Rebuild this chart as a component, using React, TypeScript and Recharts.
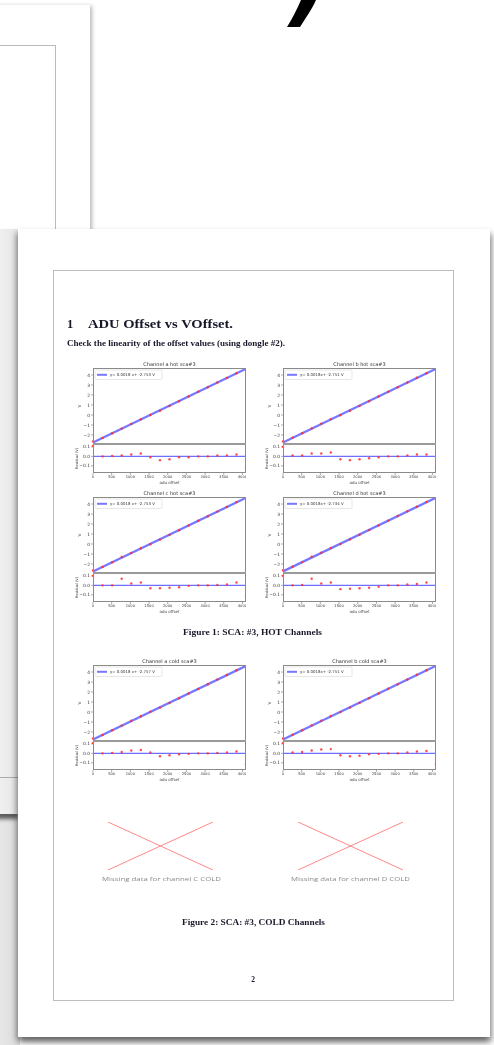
import React from "react";
import {
  ComposedChart,
  LineChart,
  Line,
  Scatter,
  XAxis,
  YAxis,
  ReferenceLine,
} from "recharts";

// adu offset steps, shared by every channel
const aduSteps = [0, 256, 512, 768, 1024, 1280, 1536, 1792, 2048, 2304, 2560, 2816, 3072, 3328, 3584, 3840, 4095];
const aduTicks = [0, 500, 1000, 1500, 2000, 2500, 3000, 3500, 4000];
const voltTicks = [-2, -1, 0, 1, 2, 3, 4];
const residualTicks = [-0.1, 0, 0.1];

const aHotV = [-2.64, -2.29, -1.83, -1.36, -0.89, -0.42, 0.0, 0.43, 0.9, 1.38, 1.85, 2.32, 2.78, 3.25, 3.71, 4.18, 4.5];
const aHotRes = [0.11, 0.0, 0.005, 0.01, 0.02, 0.03, -0.01, -0.04, -0.03, -0.01, -0.01, 0.0, 0.0, 0.01, 0.01, 0.02, -0.12];
const bHotV = [-2.65, -2.28, -1.82, -1.34, -0.88, -0.41, -0.02, 0.43, 0.9, 1.37, 1.85, 2.32, 2.78, 3.25, 3.72, 4.18, 4.5];
const bHotRes = [0.1, 0.01, 0.01, 0.03, 0.03, 0.04, -0.03, -0.04, -0.03, -0.02, -0.01, 0.0, 0.0, 0.01, 0.02, 0.02, -0.12];
const cHotV = [-2.65, -2.29, -1.83, -1.3, -0.89, -0.42, -0.02, 0.44, 0.91, 1.37, 1.85, 2.32, 2.78, 3.24, 3.71, 4.19, 4.51];
const cHotRes = [0.1, 0.0, 0.0, 0.07, 0.02, 0.03, -0.03, -0.03, -0.025, -0.02, -0.005, 0.0, 0.0, 0.005, 0.01, 0.03, -0.11];
const dHotV = [-2.63, -2.27, -1.81, -1.28, -0.87, -0.4, -0.01, 0.46, 0.92, 1.39, 1.86, 2.34, 2.8, 3.27, 3.73, 4.21, 4.54];
const dHotRes = [0.1, 0.0, 0.005, 0.07, 0.02, 0.03, -0.04, -0.035, -0.03, -0.025, -0.015, 0.0, 0.0, 0.01, 0.015, 0.03, -0.1];
const aColdV = [-2.64, -2.3, -1.83, -1.36, -0.88, -0.42, 0.02, 0.44, 0.91, 1.38, 1.85, 2.31, 2.77, 3.24, 3.7, 4.17, 4.5];
const aColdRes = [0.11, 0.0, 0.005, 0.015, 0.03, 0.035, 0.01, -0.03, -0.02, -0.01, -0.005, 0.0, 0.0, 0.005, 0.01, 0.02, -0.115];
const bColdV = [-2.64, -2.28, -1.82, -1.34, -0.87, -0.4, -0.01, 0.44, 0.91, 1.38, 1.85, 2.32, 2.78, 3.25, 3.72, 4.18, 4.5];
const bColdRes = [0.11, 0.01, 0.015, 0.03, 0.04, 0.045, -0.02, -0.03, -0.025, -0.01, -0.005, 0.0, 0.0, 0.01, 0.02, 0.025, -0.115];

// fitted line end points (at adu 0 and 4095)
const aHotFit = [-2.753, 4.618];
const bHotFit = [-2.751, 4.62];
const cHotFit = [-2.753, 4.618];
const dHotFit = [-2.734, 4.637];
const aColdFit = [-2.757, 4.614];
const bColdFit = [-2.751, 4.62];

const crossDown = [{ x: 0, y: 1 }, { x: 1, y: 0 }];
const crossUp = [{ x: 0, y: 0 }, { x: 1, y: 1 }];

const PW = 153;
const MH = 76;
const RH = 29;
const YW = 14;
const XH = 8;
const BLUE = "#3d3dff";
const INK = "#17172a";

const fmtV = (t: number) => (t < 0 ? `\u2212${-t}` : `${t}`);
const fmtR = (t: number) => (t < 0 ? `\u2212${(-t).toFixed(1)}` : t.toFixed(1));

const RedDot = (p: any) => <circle cx={p.cx} cy={p.cy} r={1.2} fill="#ff2b2b" fillOpacity={0.85} />;

const tickStyle = { fontSize: 4.4, fill: "#3a3a3a", fontFamily: "DejaVu Sans" };

function Panel({ left, top, v, res, fit }: { left: number; top: number; v: number[]; res: number[]; fit: number[] }) {
  const pts = aduSteps.map((x, i) => ({ x, v: v[i] }));
  const rpts = aduSteps.map((x, i) => ({ x, r: res[i] }));
  const line = [{ x: 0, v: fit[0] }, { x: 4095, v: fit[1] }];
  return (
    <>
      <div style={{ position: "absolute", left: left - YW, top }}>
        <ComposedChart width={PW + YW} height={MH} margin={{ top: 0, right: 0, bottom: 0, left: 0 }}>
          <XAxis type="number" dataKey="x" domain={[0, 4095]} hide />
          <YAxis
            type="number"
            dataKey="v"
            domain={[-2.9, 4.7]}
            ticks={voltTicks}
            interval={0}
            width={YW}
            tick={tickStyle}
            tickSize={2}
            tickMargin={1}
            tickLine={{ stroke: "#555", strokeWidth: 0.5 }}
            axisLine={false}
            tickFormatter={fmtV}
          />
          <Line data={line} dataKey="v" stroke={BLUE} strokeOpacity={0.7} strokeWidth={2.3} dot={false} isAnimationActive={false} />
          <Scatter data={pts} dataKey="v" shape={RedDot} isAnimationActive={false} />
        </ComposedChart>
      </div>
      <div style={{ position: "absolute", left: left - YW, top: top + MH }}>
        <ComposedChart width={PW + YW} height={RH + XH} margin={{ top: 0, right: 0, bottom: 0, left: 0 }}>
          <XAxis
            type="number"
            dataKey="x"
            domain={[0, 4095]}
            ticks={aduTicks}
            interval={0}
            height={XH}
            tick={{ ...tickStyle, fontSize: 3.7 }}
            tickSize={2}
            tickMargin={0.5}
            tickLine={{ stroke: "#555", strokeWidth: 0.5 }}
            axisLine={false}
          />
          <YAxis
            type="number"
            dataKey="r"
            domain={[-0.175, 0.13]}
            ticks={residualTicks}
            interval={0}
            width={YW}
            tick={tickStyle}
            tickSize={2}
            tickMargin={1}
            tickLine={{ stroke: "#555", strokeWidth: 0.5 }}
            axisLine={false}
            tickFormatter={fmtR}
          />
          <ReferenceLine y={0} stroke={BLUE} strokeOpacity={0.75} strokeWidth={1.4} />
          <Scatter data={rpts} dataKey="r" shape={RedDot} isAnimationActive={false} />
        </ComposedChart>
      </div>
      <div style={{ position: "absolute", left, top, width: PW, height: MH, border: "0.8px solid #8a8a8a", boxSizing: "border-box" }} />
      <div style={{ position: "absolute", left, top: top + MH, width: PW, height: RH, border: "0.8px solid #8a8a8a", boxSizing: "border-box" }} />
      <div style={{ position: "absolute", left, top: top + MH - 1, width: PW, height: 2, background: "#9a9a9a" }} />
    </>
  );
}

function Labels({ left, top, title, legend }: { left: number; top: number; title: string; legend: string }) {
  const cx = left + PW / 2;
  const bottom = top + MH + RH;
  return (
    <g fontFamily="DejaVu Sans">
      <text x={cx} y={top - 2.5} fontSize={5} fill="#333" textAnchor="middle">{title}</text>
      <rect x={left + 2} y={top + 2} width={67} height={9.5} rx={1.2} fill="#fff" fillOpacity={0.85} stroke="#cfcfcf" strokeWidth={0.5} />
      <line x1={left + 4} x2={left + 14} y1={top + 6.8} y2={top + 6.8} stroke={BLUE} strokeOpacity={0.7} strokeWidth={2} />
      <text x={left + 17} y={top + 8.2} fontSize={3.9} fill="#333">{legend}</text>
      <text transform={`translate(${left - 12.5},${top + MH / 2}) rotate(-90)`} fontSize={4.2} fill="#444" textAnchor="middle">V</text>
      <text transform={`translate(${left - 15},${top + MH + RH / 2}) rotate(-90)`} fontSize={3.5} fill="#444" textAnchor="middle">Residual (V)</text>
      <text x={cx} y={bottom + 10.5} fontSize={4} fill="#444" textAnchor="middle">adu offset</text>
    </g>
  );
}

function Cross({ left }: { left: number }) {
  return (
    <div style={{ position: "absolute", left, top: 822 }}>
      <LineChart width={105} height={48} margin={{ top: 0, right: 0, bottom: 0, left: 0 }}>
        <XAxis type="number" dataKey="x" domain={[0, 1]} hide />
        <YAxis type="number" dataKey="y" domain={[0, 1]} hide />
        <Line data={crossDown} dataKey="y" stroke="#ff7a7a" strokeWidth={0.9} dot={false} isAnimationActive={false} />
        <Line data={crossUp} dataKey="y" stroke="#ff7a7a" strokeWidth={0.9} dot={false} isAnimationActive={false} />
      </LineChart>
    </div>
  );
}

const panels = [
  { key: "ah", left: 93, top: 368, v: aHotV, res: aHotRes, fit: aHotFit, title: "Channel a hot sca#3", legend: "y= 0.0018 x+ -2.753 V" },
  { key: "bh", left: 283, top: 368, v: bHotV, res: bHotRes, fit: bHotFit, title: "Channel b hot sca#3", legend: "y= 0.0018x+ -2.751 V" },
  { key: "ch", left: 93, top: 497, v: cHotV, res: cHotRes, fit: cHotFit, title: "Channel c hot sca#3", legend: "y= 0.0018 x+ -2.753 V" },
  { key: "dh", left: 283, top: 497, v: dHotV, res: dHotRes, fit: dHotFit, title: "Channel d hot sca#3", legend: "y= 0.0018x+ -2.734 V" },
  { key: "ac", left: 93, top: 665, v: aColdV, res: aColdRes, fit: aColdFit, title: "Channel a cold sca#3", legend: "y= 0.0018 x+ -2.757 V" },
  { key: "bc", left: 283, top: 665, v: bColdV, res: bColdRes, fit: bColdFit, title: "Channel b cold sca#3", legend: "y= 0.0018x+ -2.751 V" },
];

export default function App() {
  return (
    <div style={{ position: "absolute", left: 0, top: 0, width: 494, height: 1045, overflow: "hidden", background: "#fff" }}>
      {/* pages stacked behind */}
      <div style={{ position: "absolute", left: -20, top: 5, width: 110, height: 260, background: "#fff", boxShadow: "2px 1px 4px rgba(0,0,0,0.28)" }} />
      <div style={{ position: "absolute", left: -20, top: 45, width: 75, height: 240, borderTop: "1px solid #bbb", borderRight: "1px solid #bbb" }} />
      <div style={{ position: "absolute", left: -20, top: 229, width: 40, height: 816, background: "linear-gradient(to right, #f2f2f2, #dcdcdc)" }} />
      <div style={{ position: "absolute", left: -20, top: 229, width: 38, height: 585, background: "linear-gradient(to right, #fafafa, #e6e6e6)", boxShadow: "0 5px 4px rgba(0,0,0,0.6)" }} />
      <div style={{ position: "absolute", left: -20, top: 777, width: 38, height: 1, background: "#aaa" }} />
      {/* main page */}
      <div style={{ position: "absolute", left: 18, top: 229, width: 472, height: 808, background: "#fff", boxShadow: "-2px 4px 6px rgba(0,0,0,0.35), 2px 5px 6px rgba(0,0,0,0.4)" }} />
      <div style={{ position: "absolute", left: 53, top: 270, width: 401, height: 731, border: "1px solid #bdbdbd", boxSizing: "border-box" }} />

      <div style={{ position: "absolute", left: 0, top: 0, width: 494, height: 1045, filter: "blur(0.3px)" }}>
        {panels.map((p) => (
          <Panel key={p.key} left={p.left} top={p.top} v={p.v} res={p.res} fit={p.fit} />
        ))}
        <Cross left={108} />
        <Cross left={298} />

        <svg width={494} height={1045} style={{ position: "absolute", left: 0, top: 0 }}>
          <path d="M301 0 L316 0 C312 9 305 19 300 27 L287 27 C292 19 297 9 301 0 Z" fill="#000" />
          <g fontFamily="Liberation Serif" fontWeight="bold" fill={INK}>
            <text x={67} y={327.5} fontSize={12.5}>1</text>
            <text x={88} y={327.5} fontSize={12.5} textLength={145} lengthAdjust="spacingAndGlyphs">ADU Offset vs VOffset.</text>
            <text x={67} y={346} fontSize={7.6} textLength={218} lengthAdjust="spacingAndGlyphs">Check the linearity of the offset values (using dongle #2).</text>
            <text x={183} y={634.5} fontSize={7.6} textLength={139} lengthAdjust="spacingAndGlyphs">Figure 1: SCA: #3, HOT Channels</text>
            <text x={182} y={924.5} fontSize={7.6} textLength={143} lengthAdjust="spacingAndGlyphs">Figure 2: SCA: #3, COLD Channels</text>
            <text x={253} y={982} fontSize={7.5} textAnchor="middle">2</text>
          </g>
          {panels.map((p) => (
            <Labels key={p.key} left={p.left} top={p.top} title={p.title} legend={p.legend} />
          ))}
          <g fontFamily="Open Sans" fill="#8a8a8a" fontSize={5.8}>
            <text x={102} y={881} textLength={119} lengthAdjust="spacingAndGlyphs">Missing data for channel C COLD</text>
            <text x={291} y={881} textLength={119} lengthAdjust="spacingAndGlyphs">Missing data for channel D COLD</text>
          </g>
        </svg>
      </div>
    </div>
  );
}
